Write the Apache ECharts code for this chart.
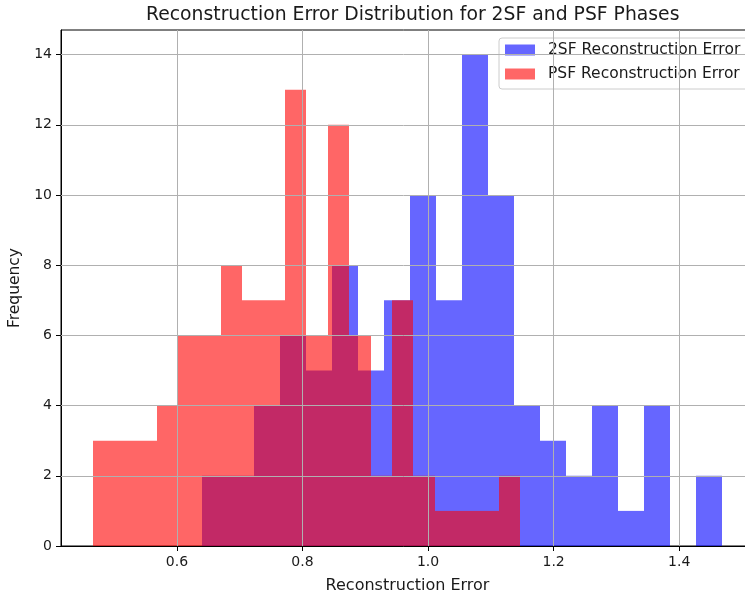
<!DOCTYPE html>
<html>
<head>
<meta charset="utf-8">
<script src="https://cdn.jsdelivr.net/npm/echarts@6/dist/echarts.min.js"></script>
<style>
  html, body { margin: 0; padding: 0; background: #fff; }
  #chart-container { width: 745px; height: 594px; }
</style>
</head>
<body>
<div id="chart-container"></div>
<script>
var dom = document.getElementById("chart-container");
var myChart = echarts.init(dom, null, { renderer: "canvas" });

// bin edges (20 equal bins each)
const edges2SF = [0.6400, 0.6815, 0.7229, 0.7644, 0.8058, 0.8473, 0.8887, 0.9302, 0.9716, 1.0131,
  1.0545, 1.0960, 1.1374, 1.1789, 1.2203, 1.2618, 1.3032, 1.3447, 1.3861, 1.4276, 1.4690];
const counts2SF = [2, 2, 4, 6, 5, 8, 5, 7, 10, 7, 14, 10, 4, 3, 2, 4, 1, 4, 0, 2];

const edgesPSF = [0.4655, 0.4996, 0.5337, 0.5677, 0.6018, 0.6359, 0.6700, 0.7040, 0.7381, 0.7722,
  0.8063, 0.8403, 0.8744, 0.9085, 0.9426, 0.9766, 1.0107, 1.0448, 1.0789, 1.1129, 1.1470];
const countsPSF = [3, 3, 3, 4, 6, 6, 8, 7, 7, 13, 6, 12, 6, 2, 7, 2, 1, 1, 1, 2];

const xTicks = [0.6, 0.8, 1.0, 1.2, 1.4];
const yTicks = [0, 2, 4, 6, 8, 10, 12, 14];

const textColor = "#1a1a1a";
const fontFamily = "DejaVu Sans";

function toBins(edges, counts) {
  return counts.map(function (c, i) {
    return [edges[i], edges[i + 1], c];
  });
}

function renderBin(params, api) {
  var topLeft = api.coord([api.value(0), api.value(2)]);
  var bottomRight = api.coord([api.value(1), 0]);
  // snap to whole pixels so neighbouring bins don't leave seams
  var x0 = Math.round(topLeft[0]);
  var x1 = Math.round(bottomRight[0]);
  return {
    type: "rect",
    shape: {
      x: x0,
      y: topLeft[1],
      width: x1 - x0,
      height: bottomRight[1] - topLeft[1],
    },
    style: { fill: api.visual("color") },
  };
}

// grid lines are drawn over the bars, like matplotlib does
var gridLines = [];
xTicks.forEach(function (v) { gridLines.push({ xAxis: v }); });
yTicks.slice(1).forEach(function (v) { gridLines.push({ yAxis: v }); });

var option = {
  animation: false,
  textStyle: { fontFamily: fontFamily, color: textColor },
  title: {
    text: "Reconstruction Error Distribution for 2SF and PSF Phases",
    left: 141,
    top: 1,
    textStyle: { fontFamily: fontFamily, fontSize: 18.8, fontWeight: "normal", color: textColor },
  },
  legend: {
    orient: "vertical",
    left: 499,
    top: 38,
    padding: [4, 8, 7, 6],
    itemWidth: 30,
    itemHeight: 11,
    itemGap: 8,
    icon: "rect",
    backgroundColor: "rgba(255,255,255,0.8)",
    borderColor: "#cccccc",
    borderWidth: 1,
    borderRadius: 3,
    textStyle: { fontFamily: fontFamily, fontSize: 15.5, color: textColor, padding: [0, 0, 0, 8] },
    data: ["2SF Reconstruction Error", "PSF Reconstruction Error"],
  },
  grid: {
    left: 61,
    top: 30,
    width: 693,
    bottom: 48,
    outerBoundsMode: "none",
    containLabel: false,
    show: true,
    borderColor: "#000",
    borderWidth: 1,
  },
  xAxis: {
    type: "value",
    min: 0.4153,
    max: 1.5192,
    name: "Reconstruction Error",
    nameLocation: "middle",
    nameGap: 32,
    nameTextStyle: { fontFamily: fontFamily, fontSize: 16, color: textColor },
    axisLine: { show: true, lineStyle: { color: "#000", width: 1 } },
    axisTick: { show: true, length: 5, lineStyle: { color: "#000" }, customValues: xTicks },
    axisLabel: {
      margin: 9,
      fontSize: 14,
      color: textColor,
      customValues: xTicks,
      formatter: function (v) { return v.toFixed(1); },
    },
    splitLine: { show: false },
  },
  yAxis: {
    type: "value",
    min: 0,
    max: 14.7,
    name: "Frequency",
    nameLocation: "middle",
    nameGap: 33,
    nameTextStyle: { fontFamily: fontFamily, fontSize: 15.5, color: textColor },
    axisLine: { show: true, lineStyle: { color: "#000", width: 1 } },
    axisTick: { show: true, length: 5, lineStyle: { color: "#000" }, customValues: yTicks },
    axisLabel: { margin: 9, fontSize: 14, color: textColor, customValues: yTicks },
    splitLine: { show: false },
  },
  series: [
    {
      name: "2SF Reconstruction Error",
      type: "custom",
      renderItem: renderBin,
      itemStyle: { color: "rgba(0,0,255,0.6)" },
      encode: { x: [0, 1], y: 2 },
      data: toBins(edges2SF, counts2SF),
      z: 2,
    },
    {
      name: "PSF Reconstruction Error",
      type: "custom",
      renderItem: renderBin,
      itemStyle: { color: "rgba(255,0,0,0.6)" },
      encode: { x: [0, 1], y: 2 },
      data: toBins(edgesPSF, countsPSF),
      z: 2,
    },
    {
      type: "line",
      data: [],
      silent: true,
      z: 3,
      markLine: {
        silent: true,
        symbol: "none",
        label: { show: false },
        lineStyle: { color: "#b0b0b0", width: 1, type: "solid" },
        data: gridLines,
      },
    },
  ],
};

if (option && typeof option === "object") {
  myChart.setOption(option);
}

window.addEventListener("resize", myChart.resize);
</script>
</body>
</html>
